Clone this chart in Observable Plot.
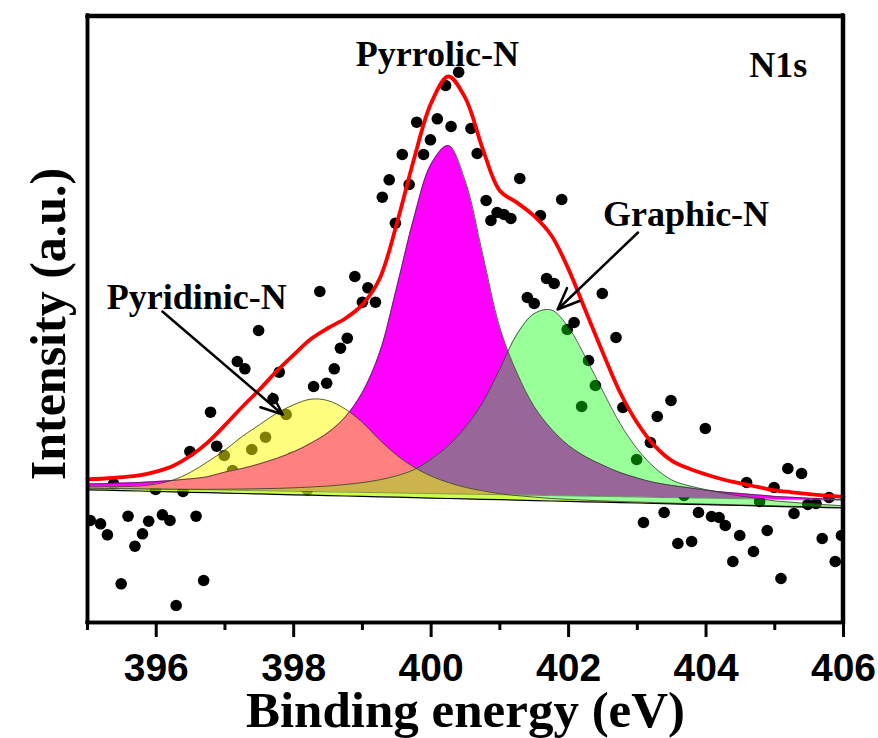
<!DOCTYPE html>
<html><head><meta charset="utf-8">
<script src="https://cdn.jsdelivr.net/npm/d3@7"></script>
<script src="https://cdn.jsdelivr.net/npm/@observablehq/plot@0.6"></script>
<style>html,body{margin:0;padding:0;background:#fff;overflow:hidden} #chart svg{display:block;max-width:none}</style>
</head><body><div id="chart"></div>
<script>
// Fit grid (binding energy, eV)
const energy = [395,395.25,395.5,395.75,396,396.25,396.5,396.75,397,397.25,397.5,397.75,398,398.25,398.5,398.75,399,399.25,399.5,399.75,400,400.25,400.5,400.75,401,401.25,401.5,401.75,402,402.25,402.5,402.75,403,403.25,403.5,403.75,404,404.25,404.5,404.75,405,405.25,405.5,405.75,406];
// Linear background
const baseline = [132.7,132.3,131.9,131.5,131.0,130.6,130.2,129.8,129.4,129.0,128.6,128.1,127.7,127.3,126.9,126.5,126.1,125.7,125.3,124.8,124.4,124.0,123.6,123.2,122.8,122.4,121.9,121.5,121.1,120.7,120.3,119.9,119.5,119.0,118.6,118.2,117.8,117.4,117.0,116.6,116.1,115.7,115.3,114.9,114.5];
// Component heights above background
const pyridinic = [3,3.5,4,5,7.5,12,20,31,43,57,69,81,90,96,95,87,74,57,42,30.5,22,16,11.5,8.5,6,4.5,3.5,2.5,2,1.6,1.3,1.1,1,0.9,0.8,0.7,0.7,0.6,0.6,0.5,0.5,0.5,0.5,0.4,0.4];
const pyrrolic = [6,6.5,7.5,8.5,10,11.5,13.5,16,21,25,30,36,43,52,63,79,104,144,210,280,334,353,317,245,172,127,94,72,56,45,37,30,25,21,18.5,16.5,14.5,13,12,11,10,9.5,9,8.7,8.5];
const graphitic = [1.5,1.7,1.9,2.1,2.4,2.7,3,3.4,3.9,4.5,5.2,6,7,8.2,9.6,11.5,13.8,17,21.5,28,39,53,72,97,131,166,187,191,174,144,111,79,54,36,24,18.5,15,12,9.5,7.5,5.5,4.5,3.5,2.8,2.2];
// Lower edge of the Pyrrolic-N fill, above the background
const pyrrolicFloor = [2,2.1,2.25,2.4,2.5,2.6,2.75,2.9,3,3.1,3.25,3.4,3.5,3.6,3.75,3.9,4,4.1,4.25,4.4,4.5,4.6,4.75,4.9,5,5.1,5.25,5.4,5.5,5.6,5.75,5.9,6,6.1,6.25,6.4,6.5,6.6,6.75,6.9,7,7.1,7.25,7.4,7.5];
// Measured points
const dotEnergy = [395.04,395.19,395.29,395.38,395.49,395.59,395.69,395.80,395.89,395.99,396.09,396.20,396.29,396.39,396.49,396.58,396.69,396.79,396.88,396.99,397.11,397.18,397.29,397.39,397.49,397.59,397.70,397.79,397.89,397.98,398.20,398.29,398.38,398.48,398.59,398.68,398.78,398.89,399.00,399.08,399.19,399.29,399.39,399.48,399.58,399.68,399.79,399.89,399.99,400.09,400.21,400.29,400.40,400.58,400.67,400.80,400.87,400.96,401.06,401.16,401.29,401.40,401.50,401.59,401.68,401.79,401.90,401.98,402.08,402.19,402.29,402.39,402.49,402.69,402.79,402.99,403.09,403.19,403.29,403.39,403.49,403.59,403.68,403.79,403.89,403.99,404.08,404.19,404.28,404.39,404.49,404.59,404.69,404.78,404.89,404.99,405.09,405.19,405.28,405.39,405.48,405.60,405.69,405.79,405.88,405.97];
const dotIntensity = [102,98.7,87.7,138.7,38.7,106.3,76.3,88.7,101.3,133,107.7,102,17,131,171,106.3,42,210.3,176.3,167,152,261,253.7,173,292,185.3,223.7,250.3,208,165.3,132.7,236,331,239.3,253.7,274.3,284.3,346,320.3,334.7,320.3,425.3,442.7,399.3,468,438,500.3,468,482.7,503.7,537,496,550.3,494,469,422,402,410,408,404,444,325,319,407,344,339,423,293,300,216,262,237,329,285,215,163,100,180,206,110,222,79,127,81,110,194,106,105,97,61,87,140,71,121,92,135,44,154,109,149,118,119,84,125,61,87];
// Ticks
const majorTicks = [396,398,400,402,404,406];
const minorTicks = [395,397,399,401,403,405];
const xDomain = [395, 406];
const yDomain = [0, 607];
// Annotations
const labelText = ["Pyrrolic-N","N1s","Pyridinic-N","Graphic-N"];
const labelE = [400.09,405.05,396.59,403.71];
const labelI = [557,546,314,397];
const arrowE1 = [396.09,403.01], arrowI1 = [311,390];
const arrowE2 = [397.84,401.84], arrowI2 = [208,313];

const rows = energy.map((e,i)=>({
  e,
  base: baseline[i],
  floor: baseline[i]+pyrrolicFloor[i],
  yel: baseline[i]+pyridinic[i],
  mag: baseline[i]+pyrrolic[i],
  grn: baseline[i]+graphitic[i],
  env: baseline[i]+pyridinic[i]+pyrrolic[i]+graphitic[i]
}));
const dots = dotEnergy.map((e,i)=>({e, v: dotIntensity[i]}));
const labels = labelText.map((t,i)=>({t, e: labelE[i], v: labelI[i]}));
const arrows = arrowE1.map((e,i)=>({x1: e, y1: arrowI1[i], x2: arrowE2[i], y2: arrowI2[i]}));
const curve = "catmull-rom";
const serif = "Liberation Serif, Times New Roman, serif";
const sans = "Liberation Sans, Arial, sans-serif";
const outline = {stroke: "#333", strokeWidth: 0.8, curve};

const chart = Plot.plot({
  width: 878, height: 738,
  marginLeft: 87, marginRight: 35, marginTop: 15, marginBottom: 116,
  x: {domain: xDomain},
  y: {domain: yDomain, axis: null},
  style: {background: "white", overflow: "visible"},
  marks: [
    Plot.dot(dots, {x: "e", y: "v", r: 5.8, fill: "black", clip: true}),
    Plot.areaY(rows, {x: "e", y1: "floor", y2: "mag", fill: "#ff00ff", curve}),
    Plot.areaY(rows, {x: "e", y1: "base", y2: "grn", fill: "#00ff00", fillOpacity: 0.4, curve}),
    Plot.areaY(rows, {x: "e", y1: "base", y2: "yel", fill: "#ffff00", fillOpacity: 0.5, curve}),
    Plot.line(rows, {x: "e", y: "mag", ...outline}),
    Plot.line(rows, {x: "e", y: "floor", ...outline, strokeOpacity: 0.6}),
    Plot.line(rows, {x: "e", y: "grn", ...outline}),
    Plot.line(rows, {x: "e", y: "yel", ...outline}),
    Plot.line(rows, {x: "e", y: "base", stroke: "black", strokeWidth: 1.2}),
    Plot.line(rows, {x: "e", y: "env", stroke: "#ff0000", strokeWidth: 3.8, curve}),
    Plot.arrow(arrows, {x1: "x1", y1: "y1", x2: "x2", y2: "y2", stroke: "black", strokeWidth: 2.5, headLength: 14, headAngle: 45}),
    Plot.text(labels, {x: "e", y: "v", text: "t", lineAnchor: "bottom", fontSize: 36, fontWeight: "bold", fontFamily: serif, fill: "black"}),
    Plot.frame({stroke: "black", strokeWidth: 3.5}),
    Plot.ruleX([xDomain[0]], {stroke: "black", strokeWidth: 3.5, strokeLinecap: "square"}),
    Plot.ruleX([xDomain[1]], {stroke: "black", strokeWidth: 3.5, strokeLinecap: "square", dx: -1}),
    Plot.ruleY([yDomain[0]], {stroke: "black", strokeWidth: 3.5, strokeLinecap: "square"}),
    Plot.ruleY([yDomain[1]], {stroke: "black", strokeWidth: 3.5, strokeLinecap: "square", dy: 1}),
    Plot.axisX({ticks: majorTicks, tickSize: 15, strokeWidth: 3, tickFormat: () => "", label: null}),
    Plot.axisX({ticks: minorTicks, tickSize: 8, strokeWidth: 3, tickFormat: () => "", label: null}),
    Plot.text(majorTicks, {x: d => d, frameAnchor: "bottom", dy: 31, lineAnchor: "top", text: d => String(d), fontSize: 39, fontWeight: "bold", fontFamily: sans, fill: "black"}),
    Plot.text(["Binding energy (eV)"], {frameAnchor: "bottom", dy: 104, lineAnchor: "bottom", textAnchor: "middle", text: d => d, fontSize: 51, fontWeight: "bold", fontFamily: serif, fill: "black"}),
    Plot.text(["Intensity (a.u.)"], {frameAnchor: "left", dx: -39, dy: 5, rotate: -90, textAnchor: "middle", lineAnchor: "middle", text: d => d, fontSize: 50, fontWeight: "bold", fontFamily: serif, fill: "black"})
  ]
});
document.getElementById("chart").appendChild(chart);
</script>
</body></html>
